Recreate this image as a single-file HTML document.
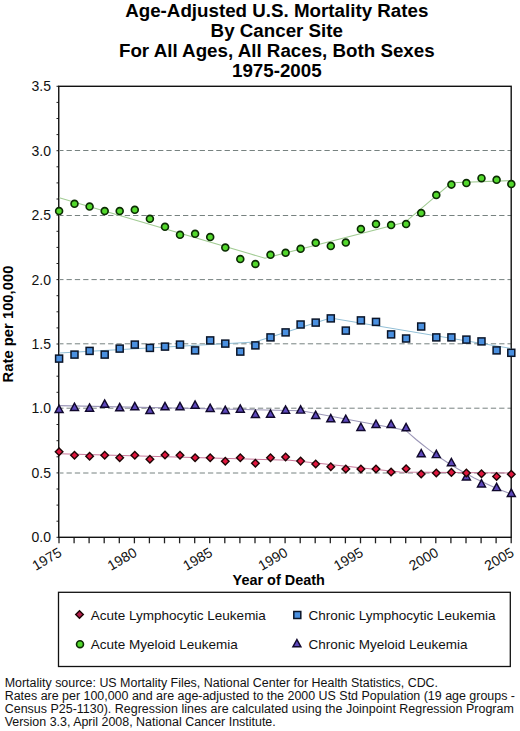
<!DOCTYPE html>
<html><head><meta charset="utf-8"><style>
html,body{margin:0;padding:0;background:#fff;}
svg{display:block;font-family:"Liberation Sans",sans-serif;}
</style></head><body>
<svg width="520" height="731" viewBox="0 0 520 731">
<rect width="520" height="731" fill="#fff"/>
<text x="276.8" y="17.3" text-anchor="middle" font-weight="bold" font-size="18.75">Age-Adjusted U.S. Mortality Rates</text>
<text x="276.8" y="36.6" text-anchor="middle" font-weight="bold" font-size="18.75">By Cancer Site</text>
<text x="276.8" y="57.0" text-anchor="middle" font-weight="bold" font-size="18.75">For All Ages, All Races, Both Sexes</text>
<text x="276.8" y="76.8" text-anchor="middle" font-weight="bold" font-size="18.75">1975-2005</text>
<line x1="60.0" x2="511.2" y1="150.5" y2="150.5" stroke="#778280" stroke-width="1" stroke-dasharray="5.3,3.02" stroke-dashoffset="1.8"/>
<line x1="60.0" x2="511.2" y1="215.5" y2="215.5" stroke="#778280" stroke-width="1" stroke-dasharray="5.3,3.02" stroke-dashoffset="1.8"/>
<line x1="60.0" x2="511.2" y1="279.6" y2="279.6" stroke="#778280" stroke-width="1" stroke-dasharray="5.3,3.02" stroke-dashoffset="1.8"/>
<line x1="60.0" x2="511.2" y1="343.8" y2="343.8" stroke="#778280" stroke-width="1" stroke-dasharray="5.3,3.02" stroke-dashoffset="1.8"/>
<line x1="60.0" x2="511.2" y1="408.2" y2="408.2" stroke="#778280" stroke-width="1" stroke-dasharray="5.3,3.02" stroke-dashoffset="1.8"/>
<line x1="60.0" x2="511.2" y1="473.0" y2="473.0" stroke="#778280" stroke-width="1" stroke-dasharray="5.3,3.02" stroke-dashoffset="1.8"/>
<line x1="56.5" x2="59.0" y1="537.3" y2="537.3" stroke="#222" stroke-width="1"/>
<line x1="56.5" x2="59.0" y1="521.2" y2="521.2" stroke="#222" stroke-width="1"/>
<line x1="56.5" x2="59.0" y1="505.1" y2="505.1" stroke="#222" stroke-width="1"/>
<line x1="56.5" x2="59.0" y1="489.0" y2="489.0" stroke="#222" stroke-width="1"/>
<line x1="56.5" x2="59.0" y1="472.9" y2="472.9" stroke="#222" stroke-width="1"/>
<line x1="56.5" x2="59.0" y1="456.8" y2="456.8" stroke="#222" stroke-width="1"/>
<line x1="56.5" x2="59.0" y1="440.7" y2="440.7" stroke="#222" stroke-width="1"/>
<line x1="56.5" x2="59.0" y1="424.5" y2="424.5" stroke="#222" stroke-width="1"/>
<line x1="56.5" x2="59.0" y1="408.4" y2="408.4" stroke="#222" stroke-width="1"/>
<line x1="56.5" x2="59.0" y1="392.3" y2="392.3" stroke="#222" stroke-width="1"/>
<line x1="56.5" x2="59.0" y1="376.2" y2="376.2" stroke="#222" stroke-width="1"/>
<line x1="56.5" x2="59.0" y1="360.1" y2="360.1" stroke="#222" stroke-width="1"/>
<line x1="56.5" x2="59.0" y1="344.0" y2="344.0" stroke="#222" stroke-width="1"/>
<line x1="56.5" x2="59.0" y1="327.9" y2="327.9" stroke="#222" stroke-width="1"/>
<line x1="56.5" x2="59.0" y1="311.8" y2="311.8" stroke="#222" stroke-width="1"/>
<line x1="56.5" x2="59.0" y1="295.7" y2="295.7" stroke="#222" stroke-width="1"/>
<line x1="56.5" x2="59.0" y1="279.6" y2="279.6" stroke="#222" stroke-width="1"/>
<line x1="56.5" x2="59.0" y1="263.5" y2="263.5" stroke="#222" stroke-width="1"/>
<line x1="56.5" x2="59.0" y1="247.4" y2="247.4" stroke="#222" stroke-width="1"/>
<line x1="56.5" x2="59.0" y1="231.3" y2="231.3" stroke="#222" stroke-width="1"/>
<line x1="56.5" x2="59.0" y1="215.1" y2="215.1" stroke="#222" stroke-width="1"/>
<line x1="56.5" x2="59.0" y1="199.0" y2="199.0" stroke="#222" stroke-width="1"/>
<line x1="56.5" x2="59.0" y1="182.9" y2="182.9" stroke="#222" stroke-width="1"/>
<line x1="56.5" x2="59.0" y1="166.8" y2="166.8" stroke="#222" stroke-width="1"/>
<line x1="56.5" x2="59.0" y1="150.7" y2="150.7" stroke="#222" stroke-width="1"/>
<line x1="56.5" x2="59.0" y1="134.6" y2="134.6" stroke="#222" stroke-width="1"/>
<line x1="56.5" x2="59.0" y1="118.5" y2="118.5" stroke="#222" stroke-width="1"/>
<line x1="56.5" x2="59.0" y1="102.4" y2="102.4" stroke="#222" stroke-width="1"/>
<line x1="56.5" x2="59.0" y1="86.3" y2="86.3" stroke="#222" stroke-width="1"/>
<line x1="59.0" x2="59.0" y1="537.3" y2="543.3" stroke="#222" stroke-width="1.3"/>
<line x1="74.1" x2="74.1" y1="537.3" y2="543.3" stroke="#222" stroke-width="1.3"/>
<line x1="89.1" x2="89.1" y1="537.3" y2="543.3" stroke="#222" stroke-width="1.3"/>
<line x1="104.2" x2="104.2" y1="537.3" y2="543.3" stroke="#222" stroke-width="1.3"/>
<line x1="119.3" x2="119.3" y1="537.3" y2="543.3" stroke="#222" stroke-width="1.3"/>
<line x1="134.4" x2="134.4" y1="537.3" y2="543.3" stroke="#222" stroke-width="1.3"/>
<line x1="149.4" x2="149.4" y1="537.3" y2="543.3" stroke="#222" stroke-width="1.3"/>
<line x1="164.5" x2="164.5" y1="537.3" y2="543.3" stroke="#222" stroke-width="1.3"/>
<line x1="179.6" x2="179.6" y1="537.3" y2="543.3" stroke="#222" stroke-width="1.3"/>
<line x1="194.7" x2="194.7" y1="537.3" y2="543.3" stroke="#222" stroke-width="1.3"/>
<line x1="209.7" x2="209.7" y1="537.3" y2="543.3" stroke="#222" stroke-width="1.3"/>
<line x1="224.8" x2="224.8" y1="537.3" y2="543.3" stroke="#222" stroke-width="1.3"/>
<line x1="239.9" x2="239.9" y1="537.3" y2="543.3" stroke="#222" stroke-width="1.3"/>
<line x1="255.0" x2="255.0" y1="537.3" y2="543.3" stroke="#222" stroke-width="1.3"/>
<line x1="270.0" x2="270.0" y1="537.3" y2="543.3" stroke="#222" stroke-width="1.3"/>
<line x1="285.1" x2="285.1" y1="537.3" y2="543.3" stroke="#222" stroke-width="1.3"/>
<line x1="300.2" x2="300.2" y1="537.3" y2="543.3" stroke="#222" stroke-width="1.3"/>
<line x1="315.2" x2="315.2" y1="537.3" y2="543.3" stroke="#222" stroke-width="1.3"/>
<line x1="330.3" x2="330.3" y1="537.3" y2="543.3" stroke="#222" stroke-width="1.3"/>
<line x1="345.4" x2="345.4" y1="537.3" y2="543.3" stroke="#222" stroke-width="1.3"/>
<line x1="360.5" x2="360.5" y1="537.3" y2="543.3" stroke="#222" stroke-width="1.3"/>
<line x1="375.5" x2="375.5" y1="537.3" y2="543.3" stroke="#222" stroke-width="1.3"/>
<line x1="390.6" x2="390.6" y1="537.3" y2="543.3" stroke="#222" stroke-width="1.3"/>
<line x1="405.7" x2="405.7" y1="537.3" y2="543.3" stroke="#222" stroke-width="1.3"/>
<line x1="420.8" x2="420.8" y1="537.3" y2="543.3" stroke="#222" stroke-width="1.3"/>
<line x1="435.8" x2="435.8" y1="537.3" y2="543.3" stroke="#222" stroke-width="1.3"/>
<line x1="450.9" x2="450.9" y1="537.3" y2="543.3" stroke="#222" stroke-width="1.3"/>
<line x1="466.0" x2="466.0" y1="537.3" y2="543.3" stroke="#222" stroke-width="1.3"/>
<line x1="481.1" x2="481.1" y1="537.3" y2="543.3" stroke="#222" stroke-width="1.3"/>
<line x1="496.1" x2="496.1" y1="537.3" y2="543.3" stroke="#222" stroke-width="1.3"/>
<line x1="511.2" x2="511.2" y1="537.3" y2="543.3" stroke="#222" stroke-width="1.3"/>
<rect x="58.75" y="86.3" width="452.45" height="451.0" fill="none" stroke="#111" stroke-width="1.4"/>
<text x="51" y="542.3" text-anchor="end" font-size="14" fill="#111">0.0</text>
<text x="51" y="477.9" text-anchor="end" font-size="14" fill="#111">0.5</text>
<text x="51" y="413.4" text-anchor="end" font-size="14" fill="#111">1.0</text>
<text x="51" y="349.0" text-anchor="end" font-size="14" fill="#111">1.5</text>
<text x="51" y="284.6" text-anchor="end" font-size="14" fill="#111">2.0</text>
<text x="51" y="220.1" text-anchor="end" font-size="14" fill="#111">2.5</text>
<text x="51" y="155.7" text-anchor="end" font-size="14" fill="#111">3.0</text>
<text x="51" y="91.3" text-anchor="end" font-size="14" fill="#111">3.5</text>
<text transform="translate(62.7,555.3) rotate(-30)" text-anchor="end" font-size="14" fill="#111">1975</text>
<text transform="translate(138.1,555.3) rotate(-30)" text-anchor="end" font-size="14" fill="#111">1980</text>
<text transform="translate(213.4,555.3) rotate(-30)" text-anchor="end" font-size="14" fill="#111">1985</text>
<text transform="translate(288.8,555.3) rotate(-30)" text-anchor="end" font-size="14" fill="#111">1990</text>
<text transform="translate(364.2,555.3) rotate(-30)" text-anchor="end" font-size="14" fill="#111">1995</text>
<text transform="translate(439.5,555.3) rotate(-30)" text-anchor="end" font-size="14" fill="#111">2000</text>
<text transform="translate(514.9,555.3) rotate(-30)" text-anchor="end" font-size="14" fill="#111">2005</text>
<text transform="translate(13.2,324) rotate(-90)" text-anchor="middle" font-weight="bold" font-size="14.8">Rate per 100,000</text>
<text x="278.7" y="584.6" text-anchor="middle" font-weight="bold" font-size="14.45">Year of Death</text>
<polyline fill="none" stroke="#a2cc94" stroke-width="1.1" points="59.3,197.7 265.0,258.2 405.0,222.3 451.5,182.8 511.2,180.6"/>
<polyline fill="none" stroke="#92bfd6" stroke-width="1.1" points="59.3,353.0 255.0,342.0 330.5,318.0 511.2,348.5"/>
<polyline fill="none" stroke="#9c97b8" stroke-width="1.1" points="59.3,405.6 301.5,410.8 405.5,430.2 410.8,434.9 416.1,439.5 421.4,443.8 426.6,447.9 431.9,451.9 437.2,455.7 442.5,459.3 447.8,462.7 453.1,466.0 458.4,469.2 463.6,472.2 468.9,475.1 474.2,477.9 479.5,480.5 484.8,483.0 490.1,485.4 495.3,487.7 500.6,489.9 505.9,492.0 511.2,494.0"/>
<polyline fill="none" stroke="#c8789a" stroke-width="1.1" points="59.3,453.8 290.0,460.2 400.0,472.0 511.2,473.0"/>
<circle cx="59.1" cy="211.0" r="3.45" fill="#52d82c" stroke="#0c2c04" stroke-width="1.65"/>
<circle cx="74.5" cy="203.8" r="3.45" fill="#52d82c" stroke="#0c2c04" stroke-width="1.65"/>
<circle cx="89.6" cy="206.5" r="3.45" fill="#52d82c" stroke="#0c2c04" stroke-width="1.65"/>
<circle cx="104.7" cy="211.0" r="3.45" fill="#52d82c" stroke="#0c2c04" stroke-width="1.65"/>
<circle cx="119.7" cy="211.0" r="3.45" fill="#52d82c" stroke="#0c2c04" stroke-width="1.65"/>
<circle cx="134.8" cy="209.8" r="3.45" fill="#52d82c" stroke="#0c2c04" stroke-width="1.65"/>
<circle cx="149.9" cy="218.8" r="3.45" fill="#52d82c" stroke="#0c2c04" stroke-width="1.65"/>
<circle cx="165.0" cy="226.8" r="3.45" fill="#52d82c" stroke="#0c2c04" stroke-width="1.65"/>
<circle cx="180.0" cy="234.8" r="3.45" fill="#52d82c" stroke="#0c2c04" stroke-width="1.65"/>
<circle cx="195.1" cy="233.8" r="3.45" fill="#52d82c" stroke="#0c2c04" stroke-width="1.65"/>
<circle cx="210.2" cy="237.0" r="3.45" fill="#52d82c" stroke="#0c2c04" stroke-width="1.65"/>
<circle cx="225.3" cy="247.5" r="3.45" fill="#52d82c" stroke="#0c2c04" stroke-width="1.65"/>
<circle cx="240.3" cy="259.0" r="3.45" fill="#52d82c" stroke="#0c2c04" stroke-width="1.65"/>
<circle cx="255.4" cy="264.0" r="3.45" fill="#52d82c" stroke="#0c2c04" stroke-width="1.65"/>
<circle cx="270.5" cy="254.8" r="3.45" fill="#52d82c" stroke="#0c2c04" stroke-width="1.65"/>
<circle cx="285.6" cy="252.8" r="3.45" fill="#52d82c" stroke="#0c2c04" stroke-width="1.65"/>
<circle cx="300.6" cy="248.8" r="3.45" fill="#52d82c" stroke="#0c2c04" stroke-width="1.65"/>
<circle cx="315.7" cy="242.8" r="3.45" fill="#52d82c" stroke="#0c2c04" stroke-width="1.65"/>
<circle cx="330.8" cy="246.0" r="3.45" fill="#52d82c" stroke="#0c2c04" stroke-width="1.65"/>
<circle cx="345.8" cy="242.5" r="3.45" fill="#52d82c" stroke="#0c2c04" stroke-width="1.65"/>
<circle cx="360.9" cy="229.0" r="3.45" fill="#52d82c" stroke="#0c2c04" stroke-width="1.65"/>
<circle cx="376.0" cy="224.0" r="3.45" fill="#52d82c" stroke="#0c2c04" stroke-width="1.65"/>
<circle cx="391.1" cy="225.0" r="3.45" fill="#52d82c" stroke="#0c2c04" stroke-width="1.65"/>
<circle cx="406.1" cy="224.0" r="3.45" fill="#52d82c" stroke="#0c2c04" stroke-width="1.65"/>
<circle cx="421.2" cy="213.0" r="3.45" fill="#52d82c" stroke="#0c2c04" stroke-width="1.65"/>
<circle cx="436.3" cy="195.0" r="3.45" fill="#52d82c" stroke="#0c2c04" stroke-width="1.65"/>
<circle cx="451.4" cy="184.6" r="3.45" fill="#52d82c" stroke="#0c2c04" stroke-width="1.65"/>
<circle cx="466.4" cy="183.0" r="3.45" fill="#52d82c" stroke="#0c2c04" stroke-width="1.65"/>
<circle cx="481.5" cy="178.2" r="3.45" fill="#52d82c" stroke="#0c2c04" stroke-width="1.65"/>
<circle cx="496.6" cy="179.8" r="3.45" fill="#52d82c" stroke="#0c2c04" stroke-width="1.65"/>
<circle cx="511.3" cy="184.0" r="3.45" fill="#52d82c" stroke="#0c2c04" stroke-width="1.65"/>
<rect x="55.6" y="355.1" width="7" height="7" fill="#4a90e0" stroke="#0a1428" stroke-width="1.5"/>
<rect x="71.0" y="351.1" width="7" height="7" fill="#4a90e0" stroke="#0a1428" stroke-width="1.5"/>
<rect x="86.1" y="347.4" width="7" height="7" fill="#4a90e0" stroke="#0a1428" stroke-width="1.5"/>
<rect x="101.2" y="351.1" width="7" height="7" fill="#4a90e0" stroke="#0a1428" stroke-width="1.5"/>
<rect x="116.2" y="345.1" width="7" height="7" fill="#4a90e0" stroke="#0a1428" stroke-width="1.5"/>
<rect x="131.3" y="341.1" width="7" height="7" fill="#4a90e0" stroke="#0a1428" stroke-width="1.5"/>
<rect x="146.4" y="344.4" width="7" height="7" fill="#4a90e0" stroke="#0a1428" stroke-width="1.5"/>
<rect x="161.5" y="343.1" width="7" height="7" fill="#4a90e0" stroke="#0a1428" stroke-width="1.5"/>
<rect x="176.5" y="341.1" width="7" height="7" fill="#4a90e0" stroke="#0a1428" stroke-width="1.5"/>
<rect x="191.6" y="346.9" width="7" height="7" fill="#4a90e0" stroke="#0a1428" stroke-width="1.5"/>
<rect x="206.7" y="336.9" width="7" height="7" fill="#4a90e0" stroke="#0a1428" stroke-width="1.5"/>
<rect x="221.8" y="340.1" width="7" height="7" fill="#4a90e0" stroke="#0a1428" stroke-width="1.5"/>
<rect x="236.8" y="348.1" width="7" height="7" fill="#4a90e0" stroke="#0a1428" stroke-width="1.5"/>
<rect x="251.9" y="341.9" width="7" height="7" fill="#4a90e0" stroke="#0a1428" stroke-width="1.5"/>
<rect x="267.0" y="333.9" width="7" height="7" fill="#4a90e0" stroke="#0a1428" stroke-width="1.5"/>
<rect x="282.1" y="328.9" width="7" height="7" fill="#4a90e0" stroke="#0a1428" stroke-width="1.5"/>
<rect x="297.1" y="321.0" width="7" height="7" fill="#4a90e0" stroke="#0a1428" stroke-width="1.5"/>
<rect x="312.2" y="319.1" width="7" height="7" fill="#4a90e0" stroke="#0a1428" stroke-width="1.5"/>
<rect x="327.3" y="314.9" width="7" height="7" fill="#4a90e0" stroke="#0a1428" stroke-width="1.5"/>
<rect x="342.3" y="327.1" width="7" height="7" fill="#4a90e0" stroke="#0a1428" stroke-width="1.5"/>
<rect x="357.4" y="316.9" width="7" height="7" fill="#4a90e0" stroke="#0a1428" stroke-width="1.5"/>
<rect x="372.5" y="318.4" width="7" height="7" fill="#4a90e0" stroke="#0a1428" stroke-width="1.5"/>
<rect x="387.6" y="330.9" width="7" height="7" fill="#4a90e0" stroke="#0a1428" stroke-width="1.5"/>
<rect x="402.6" y="335.0" width="7" height="7" fill="#4a90e0" stroke="#0a1428" stroke-width="1.5"/>
<rect x="417.7" y="323.0" width="7" height="7" fill="#4a90e0" stroke="#0a1428" stroke-width="1.5"/>
<rect x="432.8" y="333.9" width="7" height="7" fill="#4a90e0" stroke="#0a1428" stroke-width="1.5"/>
<rect x="447.9" y="333.9" width="7" height="7" fill="#4a90e0" stroke="#0a1428" stroke-width="1.5"/>
<rect x="462.9" y="336.1" width="7" height="7" fill="#4a90e0" stroke="#0a1428" stroke-width="1.5"/>
<rect x="478.0" y="337.9" width="7" height="7" fill="#4a90e0" stroke="#0a1428" stroke-width="1.5"/>
<rect x="493.1" y="346.9" width="7" height="7" fill="#4a90e0" stroke="#0a1428" stroke-width="1.5"/>
<rect x="507.8" y="349.3" width="7" height="7" fill="#4a90e0" stroke="#0a1428" stroke-width="1.5"/>
<polygon points="59.1,405.2 55.1,412.5 63.1,412.5" fill="#5d48bc" stroke="#10082c" stroke-width="1.45"/>
<polygon points="74.5,403.2 70.5,410.5 78.5,410.5" fill="#5d48bc" stroke="#10082c" stroke-width="1.45"/>
<polygon points="89.6,403.9 85.6,411.2 93.6,411.2" fill="#5d48bc" stroke="#10082c" stroke-width="1.45"/>
<polygon points="104.7,399.9 100.7,407.2 108.7,407.2" fill="#5d48bc" stroke="#10082c" stroke-width="1.45"/>
<polygon points="119.7,403.4 115.7,410.8 123.7,410.8" fill="#5d48bc" stroke="#10082c" stroke-width="1.45"/>
<polygon points="134.8,402.4 130.8,409.8 138.8,409.8" fill="#5d48bc" stroke="#10082c" stroke-width="1.45"/>
<polygon points="149.9,406.2 145.9,413.5 153.9,413.5" fill="#5d48bc" stroke="#10082c" stroke-width="1.45"/>
<polygon points="165.0,402.4 161.0,409.8 169.0,409.8" fill="#5d48bc" stroke="#10082c" stroke-width="1.45"/>
<polygon points="180.0,402.4 176.0,409.8 184.0,409.8" fill="#5d48bc" stroke="#10082c" stroke-width="1.45"/>
<polygon points="195.1,400.9 191.1,408.2 199.1,408.2" fill="#5d48bc" stroke="#10082c" stroke-width="1.45"/>
<polygon points="210.2,404.2 206.2,411.5 214.2,411.5" fill="#5d48bc" stroke="#10082c" stroke-width="1.45"/>
<polygon points="225.3,406.2 221.3,413.5 229.3,413.5" fill="#5d48bc" stroke="#10082c" stroke-width="1.45"/>
<polygon points="240.3,404.9 236.3,412.2 244.3,412.2" fill="#5d48bc" stroke="#10082c" stroke-width="1.45"/>
<polygon points="255.4,410.2 251.4,417.5 259.4,417.5" fill="#5d48bc" stroke="#10082c" stroke-width="1.45"/>
<polygon points="270.5,409.9 266.5,417.2 274.5,417.2" fill="#5d48bc" stroke="#10082c" stroke-width="1.45"/>
<polygon points="285.6,405.9 281.6,413.2 289.6,413.2" fill="#5d48bc" stroke="#10082c" stroke-width="1.45"/>
<polygon points="300.6,405.8 296.6,413.1 304.6,413.1" fill="#5d48bc" stroke="#10082c" stroke-width="1.45"/>
<polygon points="315.7,411.2 311.7,418.5 319.7,418.5" fill="#5d48bc" stroke="#10082c" stroke-width="1.45"/>
<polygon points="330.8,414.4 326.8,421.8 334.8,421.8" fill="#5d48bc" stroke="#10082c" stroke-width="1.45"/>
<polygon points="345.8,415.2 341.8,422.5 349.8,422.5" fill="#5d48bc" stroke="#10082c" stroke-width="1.45"/>
<polygon points="360.9,423.2 356.9,430.5 364.9,430.5" fill="#5d48bc" stroke="#10082c" stroke-width="1.45"/>
<polygon points="376.0,420.2 372.0,427.5 380.0,427.5" fill="#5d48bc" stroke="#10082c" stroke-width="1.45"/>
<polygon points="391.1,420.2 387.1,427.5 395.1,427.5" fill="#5d48bc" stroke="#10082c" stroke-width="1.45"/>
<polygon points="406.1,423.4 402.1,430.8 410.1,430.8" fill="#5d48bc" stroke="#10082c" stroke-width="1.45"/>
<polygon points="421.2,449.5 417.2,456.8 425.2,456.8" fill="#5d48bc" stroke="#10082c" stroke-width="1.45"/>
<polygon points="436.3,450.3 432.3,457.6 440.3,457.6" fill="#5d48bc" stroke="#10082c" stroke-width="1.45"/>
<polygon points="451.4,458.4 447.4,465.7 455.4,465.7" fill="#5d48bc" stroke="#10082c" stroke-width="1.45"/>
<polygon points="466.4,472.7 462.4,480.0 470.4,480.0" fill="#5d48bc" stroke="#10082c" stroke-width="1.45"/>
<polygon points="481.5,479.7 477.5,487.0 485.5,487.0" fill="#5d48bc" stroke="#10082c" stroke-width="1.45"/>
<polygon points="496.6,483.3 492.6,490.6 500.6,490.6" fill="#5d48bc" stroke="#10082c" stroke-width="1.45"/>
<polygon points="511.3,489.1 507.3,496.4 515.3,496.4" fill="#5d48bc" stroke="#10082c" stroke-width="1.45"/>
<polygon points="59.1,447.9 62.9,451.8 59.1,455.6 55.3,451.8" fill="#e0163e" stroke="#1e0606" stroke-width="1.4"/>
<polygon points="74.5,451.4 78.3,455.2 74.5,459.1 70.7,455.2" fill="#e0163e" stroke="#1e0606" stroke-width="1.4"/>
<polygon points="89.6,452.4 93.4,456.2 89.6,460.1 85.8,456.2" fill="#e0163e" stroke="#1e0606" stroke-width="1.4"/>
<polygon points="104.7,451.4 108.5,455.2 104.7,459.1 100.9,455.2" fill="#e0163e" stroke="#1e0606" stroke-width="1.4"/>
<polygon points="119.7,453.9 123.5,457.8 119.7,461.6 115.9,457.8" fill="#e0163e" stroke="#1e0606" stroke-width="1.4"/>
<polygon points="134.8,451.4 138.6,455.2 134.8,459.1 131.0,455.2" fill="#e0163e" stroke="#1e0606" stroke-width="1.4"/>
<polygon points="149.9,455.4 153.7,459.2 149.9,463.1 146.1,459.2" fill="#e0163e" stroke="#1e0606" stroke-width="1.4"/>
<polygon points="165.0,451.2 168.8,455.0 165.0,458.8 161.2,455.0" fill="#e0163e" stroke="#1e0606" stroke-width="1.4"/>
<polygon points="180.0,451.4 183.8,455.2 180.0,459.1 176.2,455.2" fill="#e0163e" stroke="#1e0606" stroke-width="1.4"/>
<polygon points="195.1,453.9 198.9,457.8 195.1,461.6 191.3,457.8" fill="#e0163e" stroke="#1e0606" stroke-width="1.4"/>
<polygon points="210.2,453.9 214.0,457.8 210.2,461.6 206.4,457.8" fill="#e0163e" stroke="#1e0606" stroke-width="1.4"/>
<polygon points="225.3,457.4 229.1,461.2 225.3,465.1 221.5,461.2" fill="#e0163e" stroke="#1e0606" stroke-width="1.4"/>
<polygon points="240.3,453.9 244.1,457.8 240.3,461.6 236.5,457.8" fill="#e0163e" stroke="#1e0606" stroke-width="1.4"/>
<polygon points="255.4,459.4 259.2,463.2 255.4,467.1 251.6,463.2" fill="#e0163e" stroke="#1e0606" stroke-width="1.4"/>
<polygon points="270.5,453.9 274.3,457.8 270.5,461.6 266.7,457.8" fill="#e0163e" stroke="#1e0606" stroke-width="1.4"/>
<polygon points="285.6,453.2 289.4,457.0 285.6,460.8 281.8,457.0" fill="#e0163e" stroke="#1e0606" stroke-width="1.4"/>
<polygon points="300.6,457.3 304.4,461.1 300.6,464.9 296.8,461.1" fill="#e0163e" stroke="#1e0606" stroke-width="1.4"/>
<polygon points="315.7,460.2 319.5,464.0 315.7,467.8 311.9,464.0" fill="#e0163e" stroke="#1e0606" stroke-width="1.4"/>
<polygon points="330.8,462.9 334.6,466.8 330.8,470.6 327.0,466.8" fill="#e0163e" stroke="#1e0606" stroke-width="1.4"/>
<polygon points="345.8,465.2 349.6,469.0 345.8,472.8 342.0,469.0" fill="#e0163e" stroke="#1e0606" stroke-width="1.4"/>
<polygon points="360.9,465.2 364.7,469.0 360.9,472.8 357.1,469.0" fill="#e0163e" stroke="#1e0606" stroke-width="1.4"/>
<polygon points="376.0,465.2 379.8,469.0 376.0,472.8 372.2,469.0" fill="#e0163e" stroke="#1e0606" stroke-width="1.4"/>
<polygon points="391.1,468.2 394.9,472.0 391.1,475.8 387.3,472.0" fill="#e0163e" stroke="#1e0606" stroke-width="1.4"/>
<polygon points="406.1,464.9 409.9,468.8 406.1,472.6 402.3,468.8" fill="#e0163e" stroke="#1e0606" stroke-width="1.4"/>
<polygon points="421.2,470.2 425.0,474.0 421.2,477.8 417.4,474.0" fill="#e0163e" stroke="#1e0606" stroke-width="1.4"/>
<polygon points="436.3,469.2 440.1,473.0 436.3,476.8 432.5,473.0" fill="#e0163e" stroke="#1e0606" stroke-width="1.4"/>
<polygon points="451.4,468.6 455.2,472.4 451.4,476.2 447.6,472.4" fill="#e0163e" stroke="#1e0606" stroke-width="1.4"/>
<polygon points="466.4,469.2 470.2,473.0 466.4,476.8 462.6,473.0" fill="#e0163e" stroke="#1e0606" stroke-width="1.4"/>
<polygon points="481.5,470.0 485.3,473.8 481.5,477.6 477.7,473.8" fill="#e0163e" stroke="#1e0606" stroke-width="1.4"/>
<polygon points="496.6,472.7 500.4,476.5 496.6,480.3 492.8,476.5" fill="#e0163e" stroke="#1e0606" stroke-width="1.4"/>
<polygon points="511.3,470.4 515.1,474.2 511.3,478.0 507.5,474.2" fill="#e0163e" stroke="#1e0606" stroke-width="1.4"/>
<rect x="58.5" y="592.3" width="451.8" height="74.2" fill="none" stroke="#111" stroke-width="1.3"/>
<polygon points="79.5,610.7 83.3,614.5 79.5,618.3 75.7,614.5" fill="#b01e4a" stroke="#1e0606" stroke-width="1.4"/>
<circle cx="80.0" cy="644.2" r="3.45" fill="#52d82c" stroke="#0c2c04" stroke-width="1.65"/>
<rect x="293.8" y="611.5" width="7" height="7" fill="#4a90e0" stroke="#0a1428" stroke-width="1.5"/>
<polygon points="296.9,639.5 292.9,646.8 300.9,646.8" fill="#5d48bc" stroke="#10082c" stroke-width="1.45"/>
<text x="90.8" y="619.6" font-size="13.5" fill="#111">Acute Lymphocytic Leukemia</text>
<text x="90.8" y="648.5" font-size="13.5" fill="#111">Acute Myeloid Leukemia</text>
<text x="308.5" y="619.6" font-size="13.5" fill="#111">Chronic Lymphocytic Leukemia</text>
<text x="308.5" y="648.5" font-size="13.5" fill="#111">Chronic Myeloid Leukemia</text>
<text x="4.7" y="686.8" font-size="12.45" fill="#111">Mortality source: US Mortality Files, National Center for Health Statistics, CDC.</text>
<text x="4.7" y="699.7" font-size="12.45" fill="#111">Rates are per 100,000 and are age-adjusted to the 2000 US Std Population (19 age groups -</text>
<text x="4.7" y="712.7" font-size="12.45" fill="#111" textLength="509.1" lengthAdjust="spacing">Census P25-1130). Regression lines are calculated using the Joinpoint Regression Program</text>
<text x="4.7" y="725.5" font-size="12.45" fill="#111">Version 3.3, April 2008, National Cancer Institute.</text>
</svg>
</body></html>
